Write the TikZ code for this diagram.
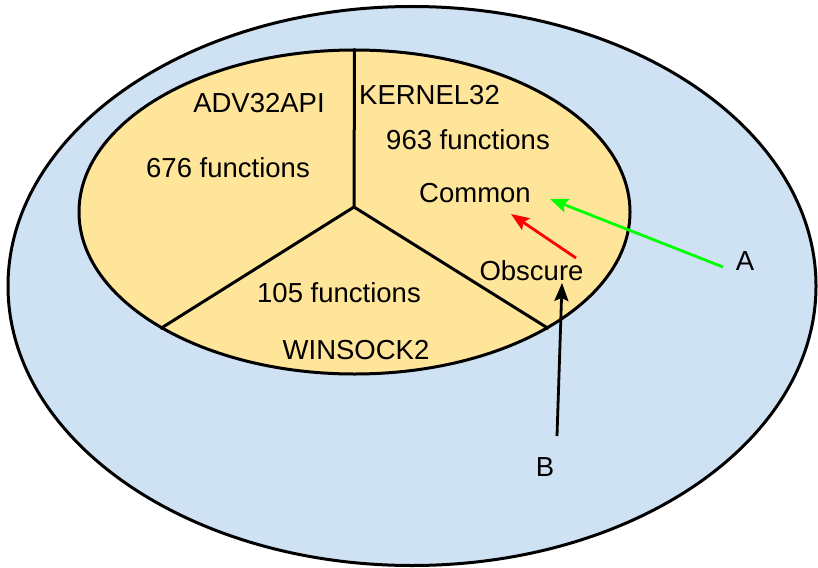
\documentclass[tikz,border=0pt]{standalone}
\usepackage{fontspec}
\setmainfont{Liberation Sans}
\usetikzlibrary{shapes.geometric, arrows.meta, positioning}
\definecolor{procfill}{HTML}{CFE2F3}
\definecolor{dllfill}{HTML}{FFE599}

\begin{document}
\begin{tikzpicture}[x=1pt,y=-1pt,line width=3pt,
    blob/.style={ellipse,draw,inner sep=0pt},
    lbl/.style={font=\fontsize{27.5}{33}\selectfont,inner sep=0pt},
    tip/.style={line width=2.8pt,-{Stealth[length=18pt,width=14pt,inset=3pt]}}]
    \useasboundingbox (0,0) rectangle (818,567);

    \node[blob,fill=procfill,minimum width=808pt,minimum height=559pt] (proc) at (412,286) {};
    \node[blob,fill=dllfill,minimum width=551pt,minimum height=324pt] (dlls) at (354.5,212) {};
    \coordinate (hub) at (354,207);
    \draw (hub) -- (dlls.north) (hub) -- (dlls.211) (hub) -- (dlls.329);

    \node[lbl] (adv) at (259,103) {ADV32API};
    \node[lbl] (advN) at (228,168) {676 functions};
    \node[lbl] (kern) at (429.5,95.5) {KERNEL32};
    \node[lbl] (kernN) at (468,139.5) {963 functions};
    \node[lbl] (common) at (475,193) {Common};
    \node[lbl] (obscure) at (531.5,271) {Obscure};
    \node[lbl] (wsN) at (339,292.5) {105 functions};
    \node[lbl] (ws) at (356,350) {WINSOCK2};
    \node[lbl] (A) at (745,261.5) {A};
    \node[lbl] (B) at (545,467) {B};

    \coordinate (aFrom) at (723,267);
    \coordinate (aTo) at (550,199);
    \coordinate (oFrom) at (576,258);
    \coordinate (oTo) at (511,214);
    \coordinate (bFrom) at (557,436);
    \coordinate (bTo) at (562,283);

    \path[tip]
    (aFrom) edge [green] (aTo)
    (oFrom) edge [red] (oTo)
    (bFrom) edge (bTo)
    ;
\end{tikzpicture}
\end{document}
